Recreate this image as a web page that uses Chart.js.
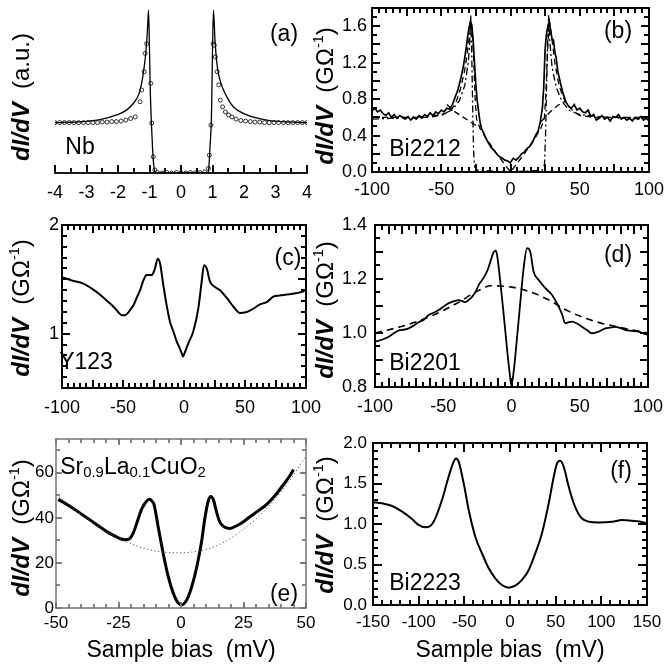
<!DOCTYPE html>
<html><head><meta charset="utf-8">
<script src="https://cdn.jsdelivr.net/npm/chart.js@4"></script>
<style>
html,body{margin:0;padding:0;background:#fff;}
#wrap{position:relative;width:664px;height:667px;overflow:hidden;font-family:"Liberation Sans",Arial,sans-serif;color:#000;}
canvas{position:absolute;}
.t{position:absolute;white-space:nowrap;line-height:1;transform:translate(-50%,-50%);font-size:23px;}
.yt{position:absolute;white-space:nowrap;line-height:1;font-size:24px;transform:translate(-50%,-50%) rotate(-90deg);}
.yt b{font-style:italic;}
sup{font-size:0.6em;vertical-align:0.7em;line-height:0;}
sub{font-size:0.65em;vertical-align:-0.25em;line-height:0;}
</style></head>
<body><div id="wrap">
<div class="yt" style="left:21px;top:97px"><b>dI/dV</b>&nbsp; (a.u.)</div>
<div class="yt" style="left:325px;top:96px"><b>dI/dV</b>&nbsp; (GΩ<sup>-1</sup>)</div>
<div class="yt" style="left:21px;top:308px"><b>dI/dV</b>&nbsp; (GΩ<sup>-1</sup>)</div>
<div class="yt" style="left:325px;top:310px"><b>dI/dV</b>&nbsp; (GΩ<sup>-1</sup>)</div>
<div class="yt" style="left:21px;top:528px"><b>dI/dV</b>&nbsp; (GΩ<sup>-1</sup>)</div>
<div class="yt" style="left:325px;top:525px"><b>dI/dV</b>&nbsp; (GΩ<sup>-1</sup>)</div>
<div class="t" style="left:284px;top:33px">(a)</div>
<div class="t" style="left:80px;top:146px">Nb</div>
<div class="t" style="left:618px;top:30px">(b)</div>
<div class="t" style="left:425px;top:148px">Bi2212</div>
<div class="t" style="left:288px;top:257px">(c)</div>
<div class="t" style="left:86px;top:361px">Y123</div>
<div class="t" style="left:618px;top:254px">(d)</div>
<div class="t" style="left:425px;top:362px">Bi2201</div>
<div class="t" style="left:133px;top:466px">Sr<sub>0.9</sub>La<sub>0.1</sub>CuO<sub>2</sub></div>
<div class="t" style="left:284px;top:593px">(e)</div>
<div class="t" style="left:621px;top:470px">(f)</div>
<div class="t" style="left:425px;top:582px">Bi2223</div>
<div class="t" style="left:181px;top:649px">Sample bias&nbsp; (mV)</div>
<div class="t" style="left:510px;top:649px">Sample bias&nbsp; (mV)</div>
</div>
<script>
// ---------- data ----------
const A_X_TICKS = ['-4','-3','-2','-1','0','1','2','3','4'];
const A_LINE = [[-4,0.99],[-3.1,1.01],[-2.57,1.05],[-2.04,1.14],[-1.72,1.24],[-1.51,1.37],[-1.35,1.53],[-1.25,1.76],[-1.17,2.08],[-1.11,2.41],[-1.06,2.87],[-1.03,3.2],[-1.0,2.4],[-0.97,1.5],[-0.93,0.85],[-0.88,0.25],[-0.83,0.03],[-0.78,0],[0,0],[0.8,0],[0.87,0.03],[0.92,0.5],[0.97,1.2],[1.0,2.4],[1.03,3.2],[1.08,2.6],[1.15,2.1],[1.24,1.82],[1.45,1.5],[1.66,1.3],[2.09,1.14],[2.72,1.04],[4,0.99]];
const A_CIRCLES = [[-4,0.99],[-3.85,0.99],[-3.7,0.99],[-3.55,0.99],[-3.4,0.99],[-3.25,0.99],[-3.1,0.99],[-2.95,0.99],[-2.8,0.99],[-2.65,0.99],[-2.5,1.0],[-2.35,1.0],[-2.2,1.01],[-2.05,1.01],[-1.9,1.02],[-1.75,1.04],[-1.6,1.07],[-1.45,1.1],[-1.3,1.4],[-1.25,1.63],[-1.17,1.99],[-1.14,2.35],[-1.09,2.54],[-0.96,1.76],[-0.93,0.98],[-0.88,0.32],[-0.83,0.06],[-0.75,0.01],[-0.6,0.0],[-0.45,0.01],[-0.3,0.0],[-0.15,0.01],[0,0.0],[0.15,0.0],[0.3,0.01],[0.45,0.0],[0.6,0.01],[0.75,0.02],[0.87,0.09],[0.9,0.35],[0.95,0.94],[1.02,2.54],[1.06,2.51],[1.09,2.28],[1.15,1.99],[1.2,1.73],[1.25,1.43],[1.32,1.3],[1.41,1.2],[1.51,1.14],[1.62,1.1],[1.75,1.06],[1.9,1.03],[2.05,1.02],[2.2,1.01],[2.35,1.0],[2.5,1.0],[2.65,0.99],[2.8,0.99],[2.95,0.99],[3.1,0.99],[3.25,0.99],[3.4,0.99],[3.55,0.99],[3.7,0.99],[3.85,0.99],[4,0.99]];

const BIAS100_TICKS = ['-100','-50','0','50','100'];
const B_Y_TICKS = ['0.0','0.4','0.8','1.2','1.6'];
const B_DATA = [[-100,0.67],[-98,0.70],[-96,0.66],[-94,0.68],[-92,0.64],[-90,0.62],[-88,0.65],[-86,0.60],[-84,0.63],[-82,0.59],[-80,0.62],[-78,0.60],[-76,0.58],[-74,0.61],[-72,0.57],[-70,0.60],[-68,0.58],[-66,0.62],[-64,0.59],[-62,0.63],[-60,0.61],[-58,0.65],[-56,0.62],[-54,0.66],[-52,0.64],[-50,0.68],[-48,0.66],[-46,0.70],[-44,0.69],[-42,0.74],[-40,0.82],[-38,0.90],[-36,1.02],[-34,1.16],[-32,1.36],[-31,1.48],[-30,1.58],[-29,1.65],[-28,1.62],[-27,1.45],[-26,1.2],[-25,0.95],[-24,0.78],[-23,0.66],[-22,0.55],[-21,0.48],[-19.5,0.43],[-18,0.38],[-16,0.32],[-14,0.27],[-12,0.24],[-10,0.20],[-8,0.17],[-6,0.15],[-4,0.13],[-2,0.12],[0,0.10],[1,0.13],[2,0.15],[4,0.13],[6,0.16],[8,0.2],[10,0.22],[12,0.26],[14,0.28],[16,0.33],[18,0.4],[20,0.45],[21.5,0.55],[23,0.7],[24,0.93],[25,1.35],[26,1.52],[27,1.6],[28,1.65],[29,1.55],[30,1.46],[31,1.45],[32,1.32],[33,1.25],[34,1.12],[35,1.05],[36,0.98],[38,0.86],[40,0.77],[42,0.72],[44,0.70],[46,0.74],[48,0.68],[50,0.70],[52,0.66],[54,0.65],[56,0.68],[58,0.61],[60,0.63],[62,0.57],[64,0.59],[66,0.62],[68,0.58],[70,0.60],[72,0.56],[74,0.61],[76,0.60],[78,0.63],[80,0.58],[82,0.60],[84,0.57],[86,0.59],[88,0.56],[90,0.60],[92,0.58],[94,0.61],[96,0.57],[98,0.59],[100,0.56]];
const B_FIT_DASH = [[-100,0.6],[-80,0.6],[-60,0.6],[-50,0.62],[-45,0.66],[-42,0.7],[-39,0.78],[-36,0.92],[-33,1.12],[-31,1.33],[-29.5,1.52],[-28.5,1.62],[-27.5,1.55],[-26.5,1.2],[-25.5,0.8],[-24.5,0.58],[-22,0.48],[-18,0.38],[-14,0.29],[-10,0.2],[-6,0.12],[-3,0.06],[0,0.0],[3,0.06],[6,0.12],[10,0.2],[14,0.29],[18,0.38],[22,0.48],[24.5,0.6],[25.5,0.85],[26.5,1.25],[27.5,1.58],[28.5,1.62],[30,1.45],[32,1.2],[35,0.95],[38,0.82],[42,0.72],[46,0.66],[50,0.62],[60,0.6],[80,0.6],[100,0.6]];
const B_BACK_DASH = [[-46,0.74],[-40,0.66],[-34,0.6],[-28,0.54],[-22,0.48],[0,null],[22,0.55],[28,0.65],[34,0.73],[40,0.78]];
const B_FIT_DASHDOT = [[-100,0.58],[-70,0.6],[-50,0.63],[-42,0.68],[-37,0.78],[-33,0.95],[-30.5,1.2],[-29.5,1.4],[-28.7,1.72],[-28,1.3],[-27.3,0.7],[-26.7,0.25],[-26,0.06],[-24,0.02],[0,0.0],[23,0.02],[24.5,0.08],[25.3,0.4],[26,0.9],[26.8,1.4],[27.5,1.72],[28.3,1.45],[30,1.15],[33,0.93],[37,0.78],[42,0.68],[50,0.63],[70,0.6],[100,0.58]];

const C_Y_TICKS = ['1','2'];
const C_DATA = [[-100,1.52],[-92,1.49],[-82.5,1.46],[-75,1.41],[-69,1.36],[-63,1.3],[-58,1.25],[-54,1.2],[-51,1.17],[-48.4,1.17],[-46,1.19],[-44,1.22],[-41,1.27],[-38.8,1.33],[-36,1.40],[-33.3,1.49],[-30.6,1.54],[-26.5,1.54],[-23.8,1.6],[-21.6,1.69],[-19.7,1.65],[-17,1.45],[-14.2,1.26],[-11.5,1.11],[-8.7,1.02],[-6,0.93],[-3.3,0.86],[-1.9,0.82],[-1,0.79],[0.8,0.83],[3.5,0.91],[7.6,1.02],[11.7,1.23],[14.5,1.48],[16.4,1.63],[18.6,1.6],[21.3,1.48],[25.4,1.43],[29.5,1.4],[35,1.33],[40.4,1.25],[45.9,1.19],[51.4,1.2],[56.8,1.23],[62.3,1.27],[67.8,1.29],[73.2,1.34],[78,1.35],[84.2,1.36],[90,1.37],[95,1.38],[100,1.40]];

const D_Y_TICKS = ['0.8','1.0','1.2','1.4'];
const D_DATA = [[-100,0.968],[-95,0.975],[-90,0.986],[-86,1.0],[-82.6,1.01],[-79,1.012],[-75.3,1.017],[-71,1.03],[-68,1.04],[-64,1.05],[-60.7,1.067],[-57,1.075],[-53.3,1.085],[-50,1.097],[-46,1.11],[-42,1.118],[-38.7,1.122],[-36,1.118],[-33.8,1.114],[-31,1.124],[-28.9,1.134],[-26,1.155],[-24,1.178],[-21,1.2],[-19.2,1.215],[-17,1.24],[-15.5,1.264],[-13,1.30],[-11.5,1.305],[-10.6,1.289],[-8.2,1.19],[-5.7,1.067],[-3.3,0.943],[-0.9,0.832],[-0.1,0.807],[1.6,0.857],[4,0.98],[6.5,1.116],[8.9,1.24],[11.4,1.314],[13.8,1.30],[16.2,1.227],[19.9,1.196],[24.8,1.166],[29.7,1.141],[34.6,1.097],[37,1.07],[39.4,1.036],[42,1.04],[44.3,1.042],[48,1.035],[51.6,1.023],[55,1.012],[59,0.999],[63.9,1.005],[68.7,1.017],[72,1.02],[76,1.023],[80,1.018],[83.4,1.011],[88,1.008],[93.2,1.005],[97,0.998],[100,0.993]];
const D_DASH = [[-100,1.0],[-80,1.025],[-60,1.06],[-40,1.11],[-25,1.155],[-15,1.175],[0,1.17],[10,1.158],[20,1.14],[30,1.115],[40,1.085],[60,1.045],[80,1.02],[100,1.0]];

const E_X_TICKS = ['-50','-25','0','25','50'];
const E_Y_TICKS = ['0','20','40','60'];
const E_DATA = [[-49.1,48.2],[-46,46.2],[-43.1,44.2],[-39.7,41.6],[-36.4,39.1],[-33,36.4],[-29.7,33.9],[-26.7,32.1],[-23.7,30.5],[-22,30.3],[-20.4,30.9],[-19,33.5],[-17.7,37.6],[-15.7,44.0],[-13.7,47.5],[-12.5,48.3],[-11.5,47.2],[-10.8,46],[-9.1,35.8],[-7.1,24.1],[-5.1,13.9],[-3.1,6.6],[-1.1,2.2],[0.3,1.4],[2.3,3.6],[4.3,9.5],[6.3,18.2],[8.3,30],[9.6,40.2],[10.9,47.5],[11.9,49.5],[12.9,48.2],[14.3,42.3],[15.6,38],[17.6,35.8],[19.6,35.3],[22.3,36.5],[25,38.3],[27.6,40.5],[31,43.2],[34.3,46],[37.7,50],[41,54.8],[43,57.8],[45,61.4]];
const E_DOTTED = [[-50,50.5],[-45,46],[-40,41.5],[-35,37.5],[-30,34],[-25,31],[-20,28.5],[-15,26.5],[-10,25.3],[-5,24.6],[0,24.5],[5,24.9],[10,26],[15,28],[20,31],[25,35],[30,39.5],[35,45],[40,51.5],[45,59],[50,67.5]];

const F_X_TICKS = ['-150','-100','-50','0','50','100','150'];
const F_Y_TICKS = ['0.0','0.5','1.0','1.5','2.0'];
const F_DATA = [[-150,1.27],[-140,1.255],[-129,1.222],[-118,1.152],[-107,1.058],[-100,0.988],[-92.7,0.959],[-87.3,0.975],[-81.8,1.07],[-74.5,1.296],[-67.2,1.584],[-61.7,1.77],[-59.1,1.81],[-56.2,1.77],[-50.7,1.502],[-45.2,1.173],[-38,0.843],[-30.7,0.638],[-23.3,0.453],[-16.1,0.33],[-8.8,0.247],[-1.4,0.214],[5.8,0.238],[13.1,0.309],[20.5,0.432],[27.7,0.638],[35,0.885],[42.4,1.256],[47.9,1.584],[51.5,1.749],[55.1,1.78],[58.8,1.707],[64.3,1.46],[69.8,1.256],[77,1.09],[86.5,1.028],[97.1,1.02],[111.7,1.028],[122.7,1.049],[133.6,1.04],[142,1.03],[150,1.009]];

// ---------- drawing helpers ----------
const FONT = '"Liberation Sans", Arial, sans-serif';
function makeFrame(o, ax) {
  const drawFrame = chart => {
    const ctx = chart.ctx, a = chart.chartArea;
    const L = a.left, T = a.top, R = a.right, B = a.bottom;
    const lw = o.lineWidth, tw = o.tickWidth;
    const xp = v => L + (v - ax.xMin) / (ax.xMax - ax.xMin) * (R - L);
    const yp = v => B - (v - ax.yMin) / (ax.yMax - ax.yMin) * (B - T);
    ctx.save();
    ctx.setLineDash([]);
    ctx.globalAlpha = 1;
    ctx.globalCompositeOperation = 'source-over';
    ctx.fillStyle = o.color;
    ctx.fillRect(L - lw / 2, B - lw / 2, R - L + lw, lw);
    if (o.box) {
      ctx.fillRect(L - lw / 2, T - lw / 2, R - L + lw, lw);
      ctx.fillRect(L - lw / 2, T - lw / 2, lw, B - T + lw);
      ctx.fillRect(R - lw / 2, T - lw / 2, lw, B - T + lw);
    }
    for (const [step, len] of (o.xTicks || [])) {
      const n = Math.round((ax.xMax - ax.xMin) / step);
      const s0 = Math.ceil(ax.xMin / step - 1e-9);
      for (let k = 0; k <= n; k++) {
        const v = (s0 + k) * step;
        if (v > ax.xMax + 1e-9) break;
        const p = Math.round(xp(v));
        ctx.fillRect(p - tw / 2, B - len, tw, len);
        if (o.box) ctx.fillRect(p - tw / 2, T, tw, len);
      }
    }
    if (o.box) for (const [step, len] of (o.yTicks || [])) {
      const n = Math.round((ax.yMax - ax.yMin) / step);
      const s0 = Math.ceil(ax.yMin / step - 1e-9);
      for (let k = 0; k <= n; k++) {
        const v = (s0 + k) * step;
        if (v > ax.yMax + 1e-9) break;
        const p = Math.round(yp(v));
        ctx.fillRect(L, p - tw / 2, len, tw);
        ctx.fillRect(R - len, p - tw / 2, len, tw);
      }
    }
    ctx.restore();
  };
  return {id: 'frame', afterDatasetsDraw: drawFrame, afterDraw: drawFrame};
}

function pts(arr) { return arr.map(([x, y]) => ({x, y})); }

function panel(g, ds, ax, frame) {
  const padL = 60, padT = 30, padR = 28, padB = 40;
  const W = g.R - g.L + padL + padR, H = g.B - g.T + padT + padB;
  const cv = document.createElement('canvas');
  cv.width = W; cv.height = H;
  cv.style.left = (g.L - padL) + 'px'; cv.style.top = (g.T - padT) + 'px';
  cv.style.width = W + 'px'; cv.style.height = H + 'px';
  document.getElementById('wrap').prepend(cv);
  const mk = (labels, min, max, pad, size, isX, show) => ({
    type: 'linear', min, max, display: show,
    grid: {display: false, drawTicks: false}, border: {display: false},
    ticks: {color: '#000', font: {family: FONT, size}, padding: pad, maxRotation: 0, minRotation: 0, autoSkip: false,
      callback: (v, i) => labels[i]},
    afterBuildTicks: s => { s.ticks = labels.map(l => ({value: parseFloat(l)})); },
    afterFit: s => { if (isX) s.height = padB; else s.width = padL; }
  });
  return new Chart(cv, {
    type: 'line',
    data: {datasets: ds},
    options: {
      responsive: false, animation: false, events: [],
      layout: {padding: {left: 0, top: padT, right: padR, bottom: 0}},
      plugins: {legend: {display: false}, tooltip: {enabled: false}},
      elements: {point: {radius: 0}},
      scales: {
        x: mk(ax.xLabels, ax.xMin, ax.xMax, ax.xPad, ax.size, true, true),
        y: mk(ax.yLabels || [], ax.yMin, ax.yMax, ax.yPad, ax.size, false, ax.yShow)
      }
    },
    plugins: [makeFrame(frame, ax)]
  });
}
const line = (arr, w, dash, extra) => Object.assign({data: pts(arr), borderColor: '#000', borderWidth: w, borderDash: dash || [], pointRadius: 0, fill: false, spanGaps: false}, extra || {});
const boxFrame = (xT, yT) => ({box: true, color: '#000', lineWidth: 1.7, tickWidth: 1.8, xTicks: xT, yTicks: yT});

// (a)
panel({L: 55, T: 5, R: 307, B: 173}, [
  line(A_LINE, 1.3, [], {cubicInterpolationMode: 'monotone'}),
  {data: pts(A_CIRCLES), showLine: false, pointRadius: 2, pointStyle: 'circle', pointBorderColor: '#000', pointBackgroundColor: '#fff', pointBorderWidth: 0.8, borderColor: '#000'}
], {xLabels: A_X_TICKS, xMin: -4, xMax: 4, xPad: 9, yMin: 0, yMax: 3.3, yShow: false, size: 18},
  {box: false, color: '#000', lineWidth: 1.4, tickWidth: 1.6, xTicks: [[1, 8], [0.5, 5]]});

// (b)
panel({L: 372, T: 8, R: 649, B: 172}, [
  line(B_DATA, 1.7),
  line(B_FIT_DASH, 1.3, [6, 4]),
  line(B_BACK_DASH, 1.3, [6, 4]),
  line(B_FIT_DASHDOT, 1.3, [7, 3, 2, 3])
], {xLabels: BIAS100_TICKS, xMin: -100, xMax: 100, xPad: 7, yLabels: B_Y_TICKS, yMin: 0, yMax: 1.8, yPad: 5, yShow: true, size: 18},
  boxFrame([[25, 8], [5, 5]], [[0.2, 8], [0.1, 5]]));

// (c)
panel({L: 62, T: 225, R: 306, B: 388}, [
  line(C_DATA, 2, [], {cubicInterpolationMode: 'monotone'})
], {xLabels: BIAS100_TICKS, xMin: -100, xMax: 100, xPad: 9, yLabels: C_Y_TICKS, yMin: 0.5, yMax: 2, yPad: 3, yShow: true, size: 18},
  boxFrame([[25, 8], [5, 5]], [[0.5, 8], [0.1, 5]]));

// (d)
panel({L: 375, T: 225, R: 648, B: 387}, [
  line(D_DATA, 1.8, [], {cubicInterpolationMode: 'monotone'}),
  line(D_DASH, 1.6, [7, 5], {cubicInterpolationMode: 'monotone'})
], {xLabels: BIAS100_TICKS, xMin: -100, xMax: 100, xPad: 9, yLabels: D_Y_TICKS, yMin: 0.8, yMax: 1.4, yPad: 8, yShow: true, size: 18},
  boxFrame([[10, 9], [5, 5]], [[0.1, 8], [0.05, 5]]));

// (e)
panel({L: 56, T: 439, R: 306, B: 608}, [
  line(E_DOTTED, 1, [1.2, 2.5], {cubicInterpolationMode: 'monotone', borderColor: '#555'}),
  line(E_DATA, 3, [], {cubicInterpolationMode: 'monotone'})
], {xLabels: E_X_TICKS, xMin: -50, xMax: 50, xPad: 5, yLabels: E_Y_TICKS, yMin: 0, yMax: 75, yPad: 2, yShow: true, size: 17},
  {box: true, color: '#777', lineWidth: 1, tickWidth: 1.3, xTicks: [[25, 6], [5, 4]], yTicks: [[20, 6], [10, 4]]});

// (f)
panel({L: 373, T: 443, R: 647, B: 605}, [
  line(F_DATA, 2, [], {cubicInterpolationMode: 'monotone'})
], {xLabels: F_X_TICKS, xMin: -150, xMax: 150, xPad: 7, yLabels: F_Y_TICKS, yMin: 0, yMax: 2, yPad: 6, yShow: true, size: 17},
  boxFrame([[50, 9], [10, 5]], [[0.5, 9], [0.1, 5]]));
</script>
</body></html>
